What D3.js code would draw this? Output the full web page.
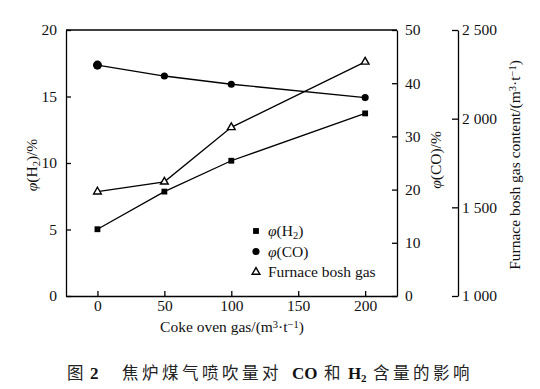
<!DOCTYPE html>
<html>
<head>
<meta charset="utf-8">
<script src="https://cdn.jsdelivr.net/npm/d3@7"></script>
<style>
  body { margin: 0; background: #fff; }
  text { font-family: "Liberation Serif", "Times New Roman", serif; fill: #111; }
</style>
</head>
<body>
<div id="chart"></div>
<script>
// 数据
const cokeGas = [0, 50, 100, 200];
const h2 = [5.02, 7.85, 10.17, 13.73];
const co = [43.4, 41.35, 39.8, 37.3];
const boshGas = [1588, 1644, 1951, 2320];
const xTicks = [0, 50, 100, 150, 200];
const h2Ticks = [0, 5, 10, 15, 20];
const coTicks = [0, 10, 20, 30, 40, 50];
const boshTicks = [1000, 1500, 2000, 2500];

const W = 540, H = 389;
const plot = { left: 66, right: 397, top: 30, bottom: 296 };
const boshAxisX = 458;
const SERIF = '"Liberation Serif", "Times New Roman", serif';
const CJK = '"Noto Sans CJK SC", sans-serif';

const svg = d3.select("#chart").append("svg")
  .attr("width", W).attr("height", H);

const x = d3.scaleLinear().domain([-23.5, 223.8]).range([plot.left, plot.right]);
const yH2 = d3.scaleLinear().domain([0, 20]).range([plot.bottom, plot.top]);
const yCO = d3.scaleLinear().domain([0, 50]).range([plot.bottom, plot.top]);
const yBosh = d3.scaleLinear().domain([1000, 2500]).range([plot.bottom, plot.top]);

const spaceFmt = d3.formatLocale({ decimal: ".", thousands: " ", grouping: [3], currency: ["", ""] }).format(",d");

function styleAxis(g) {
  g.attr("font-family", null).attr("font-size", null);
  g.selectAll("path, line").attr("stroke", "#000").attr("stroke-width", 1.3);
  g.selectAll("text").style("font-family", SERIF).style("font-size", "15.5px").attr("fill", "#111");
}

// 边框顶线
svg.append("line")
  .attr("x1", plot.left).attr("x2", plot.right)
  .attr("y1", plot.top).attr("y2", plot.top)
  .attr("stroke", "#000").attr("stroke-width", 1.3);

// 坐标轴
svg.append("g")
  .attr("transform", `translate(0,${plot.bottom})`)
  .call(d3.axisBottom(x).tickValues(xTicks).tickSizeInner(-5).tickSizeOuter(0).tickPadding(4))
  .call(styleAxis);

svg.append("g")
  .attr("transform", `translate(${plot.left},0)`)
  .call(d3.axisLeft(yH2).tickValues(h2Ticks).tickSizeInner(-5).tickSizeOuter(0).tickPadding(9))
  .call(styleAxis);

svg.append("g")
  .attr("transform", `translate(${plot.right},0)`)
  .call(d3.axisRight(yCO).tickValues(coTicks).tickSizeInner(-5).tickSizeOuter(0).tickPadding(8))
  .call(styleAxis);

svg.append("g")
  .attr("transform", `translate(${boshAxisX},0)`)
  .call(d3.axisRight(yBosh).tickValues(boshTicks).tickFormat(spaceFmt).tickSizeInner(-6).tickSizeOuter(0).tickPadding(4))
  .call(styleAxis);

// 折线
const series = [
  { key: "h2", vals: h2, y: yH2, shape: "square" },
  { key: "co", vals: co, y: yCO, shape: "circle" },
  { key: "bosh", vals: boshGas, y: yBosh, shape: "triangle" }
];

const symbols = {
  square: d3.symbol().type(d3.symbolSquare).size(34),
  circle: d3.symbol().type(d3.symbolCircle).size(40),
  triangle: d3.symbol().type(d3.symbolTriangle).size(26)
};

series.forEach(s => {
  const pts = cokeGas.map((c, i) => [x(c), s.y(s.vals[i])]);
  svg.append("path")
    .datum(pts)
    .attr("d", d3.line())
    .attr("fill", "none")
    .attr("stroke", "#000")
    .attr("stroke-width", 1.3);
  svg.selectAll(`.pt-${s.key}`)
    .data(pts)
    .enter()
    .append("path")
    .attr("class", `pt-${s.key}`)
    .attr("transform", d => `translate(${d[0]},${d[1]})`)
    .attr("d", (d, i) => (s.shape === "circle" && i === 0) ? d3.symbol().type(d3.symbolCircle).size(64)() : symbols[s.shape]())
    .attr("fill", s.shape === "triangle" ? "#fff" : "#000")
    .attr("stroke", "#000")
    .attr("stroke-width", s.shape === "triangle" ? 1.4 : 0);
});

function addParts(t, parts) {
  parts.forEach(([txt, kind]) => {
    const sp = t.append("tspan").text(txt);
    if (kind === "italic") sp.style("font-style", "italic");
    if (kind === "sub") sp.attr("baseline-shift", "-25%").style("font-size", "10.5px");
    if (kind === "sup") sp.attr("baseline-shift", "40%").style("font-size", "10.5px");
  });
}

// 图例
const legend = svg.append("g").attr("transform", "translate(256,231)");
const legendItems = [
  { shape: "square", parts: [["φ", "italic"], ["(H", ""], ["2", "sub"], [")", ""]] },
  { shape: "circle", parts: [["φ", "italic"], ["(CO)", ""]] },
  { shape: "triangle", parts: [["Furnace bosh gas", ""]] }
];
legendItems.forEach((item, i) => {
  const g = legend.append("g").attr("transform", `translate(0,${i * 20.5})`);
  g.append("path")
    .attr("d", symbols[item.shape]())
    .attr("fill", item.shape === "triangle" ? "#fff" : "#000")
    .attr("stroke", "#000")
    .attr("stroke-width", item.shape === "triangle" ? 1.4 : 0);
  const t = g.append("text").attr("x", 12).attr("y", 5).style("font-size", "15.5px");
  addParts(t, item.parts);
});

// 轴标题
const xTitle = svg.append("text")
  .attr("x", 232).attr("y", 332)
  .attr("text-anchor", "middle").style("font-size", "15.5px");
addParts(xTitle, [["Coke oven gas/(m", ""], ["3", "sup"], ["·t", ""], ["−1", "sup"], [")", ""]]);

const yTitle = svg.append("text")
  .attr("transform", `translate(37,165) rotate(-90)`)
  .attr("text-anchor", "middle").style("font-size", "15.5px");
addParts(yTitle, [["φ", "italic"], ["(H", ""], ["2", "sub"], [")/%", ""]]);

const coTitle = svg.append("text")
  .attr("transform", `translate(441,160) rotate(-90)`)
  .attr("text-anchor", "middle").style("font-size", "15.5px");
addParts(coTitle, [["φ", "italic"], ["(CO)/%", ""]]);

const boshTitle = svg.append("text")
  .attr("transform", `translate(520,165) rotate(-90)`)
  .attr("text-anchor", "middle").style("font-size", "15.5px");
addParts(boshTitle, [["Furnace bosh gas content/(m", ""], ["3", "sup"], ["·t", ""], ["−1", "sup"], [")", ""]]);

// 图题
const capY = 379;
const capParts = [
  { x: 67, txt: "图", kind: "cjk" },
  { x: 90, txt: "2", kind: "b" },
  { x: 122, txt: "焦炉煤气喷吹量对", kind: "cjk" },
  { x: 292, txt: "CO", kind: "b" },
  { x: 324, txt: "和", kind: "cjk" },
  { x: 348, txt: "H", kind: "b" },
  { x: 361, txt: "2", kind: "bsub" },
  { x: 373, txt: "含量的影响", kind: "cjk" }
];
capParts.forEach(p => {
  const t = svg.append("text").attr("x", p.x).attr("y", capY).text(p.txt);
  if (p.kind === "cjk") t.style("font-family", CJK).style("font-size", "16.5px").style("letter-spacing", "3.5px").style("fill", "#222");
  if (p.kind === "b") t.style("font-weight", "bold").style("font-size", "17px");
  if (p.kind === "bsub") t.attr("y", capY + 3).style("font-weight", "bold").style("font-size", "11px");
});
</script>
</body>
</html>
